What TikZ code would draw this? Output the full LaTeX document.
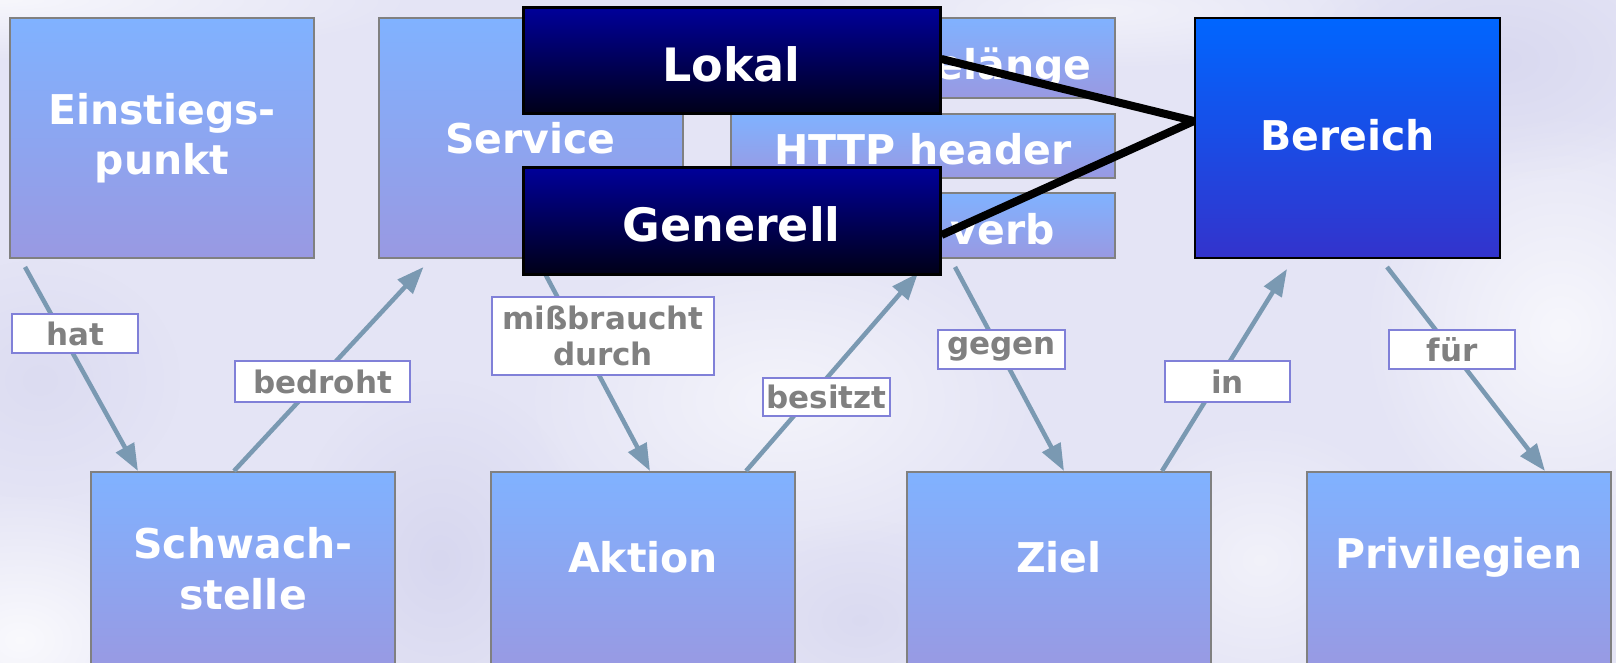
\documentclass[tikz,border=0pt]{standalone}
\usepackage{fontspec}
\setmainfont{DejaVu Sans}
\usetikzlibrary{arrows.meta,calc,fadings}

\definecolor{bg}{RGB}{228,228,245}
\definecolor{bgdark}{RGB}{212,212,238}
\definecolor{boxtop}{RGB}{128,178,255}
\definecolor{boxbot}{RGB}{153,153,226}
\definecolor{boxline}{RGB}{128,128,128}
\definecolor{hubtop}{RGB}{0,102,255}
\definecolor{hubbot}{RGB}{51,51,204}
\definecolor{navytop}{RGB}{0,0,153}
\definecolor{navybot}{RGB}{0,0,24}
\definecolor{connclr}{RGB}{122,153,178}
\definecolor{tagline}{RGB}{128,128,216}
\definecolor{tagtext}{RGB}{128,128,128}

\tikzfading[name=blob, inner color=transparent!0, outer color=transparent!100]

\tikzset{
  concept/.style={draw=boxline, line width=2pt, top color=boxtop, bottom color=boxbot,
    minimum width=304pt, minimum height=240pt, inner sep=0pt, text=white,
    font=\bfseries\fontsize{41}{50}\selectfont, align=center},
  attr/.style={concept, minimum width=384pt},
  hub/.style={concept, draw=black, top color=hubtop, bottom color=hubbot, minimum width=305pt},
  levelbox/.style={draw=black, line width=3pt, top color=navytop, bottom color=navybot,
    minimum width=417pt, minimum height=106pt, inner sep=0pt},
  caption/.style={text=white, font=\bfseries\fontsize{41}{51}\selectfont, align=center, inner sep=0pt},
  levelcap/.style={caption, font=\bfseries\fontsize{46}{50}\selectfont},
  rel/.style={draw=connclr, line width=4.5pt, -{Triangle[length=27pt,width=20pt]}},
  tag/.style={draw=tagline, line width=2pt, fill=white, text=tagtext, inner sep=0pt,
    font=\bfseries\fontsize{31}{36}\selectfont, align=center,
    minimum width=126pt, minimum height=39pt},
  link/.style={draw=black, line width=8pt}
}

\begin{document}
\begin{tikzpicture}[x=1pt, y=-1pt]
\useasboundingbox (0,0) rectangle (1616,663);
\clip (0,0) rectangle (1616,663);

% cloudy background
\fill[bg] (0,0) rectangle (1616,663);
\fill[white, opacity=.7, path fading=blob] (0,0) ellipse (420 and 60);
\fill[white, opacity=.8, path fading=blob] (20,640) ellipse (200 and 150);
\fill[white, opacity=.6, path fading=blob] (780,400) ellipse (260 and 160);
\fill[white, opacity=.7, path fading=blob] (1560,330) ellipse (200 and 220);
\fill[white, opacity=.5, path fading=blob] (1260,560) ellipse (160 and 140);
\fill[white, opacity=.5, path fading=blob] (1100,10) ellipse (300 and 60);
\fill[bgdark, opacity=.8, path fading=blob] (440,560) ellipse (150 and 180);
\fill[bgdark, opacity=.7, path fading=blob] (1500,60) ellipse (200 and 120);
\fill[bgdark, opacity=.6, path fading=blob] (860,620) ellipse (140 and 100);
\fill[bgdark, opacity=.5, path fading=blob] (40,380) ellipse (140 and 120);

% upper row of concepts
\node[concept] (ein) at (162,138) {Einstiegs-\\punkt};
\node[concept] (serv) at (530.5,138) {Service};
\node[attr, minimum height=80pt] (eing) at (923,58) {};
\node[caption] (eingtxt) at (935,68) {Eingabelänge};
\node[attr, minimum height=64pt] (http) at (923,146) {};
\node[caption] (httptxt) at (923,149) {HTTP header};
\node[attr, minimum height=65pt] (verb) at (923,225.5) {};
\node[caption] (verbtxt) at (935,229) {HTTP verb};
\node[hub] (ber) at (1347.5,138) {};
\node[caption] (bertxt) at (1347.5,135) {Bereich};

% lower row of concepts
\node[concept, minimum height=200pt] (schw) at (243,572) {};
\node[concept, minimum height=200pt] (akt) at (643,572) {};
\node[concept, minimum height=200pt] (ziel) at (1059,572) {};
\node[concept, minimum height=200pt] (priv) at (1459,572) {};
\node[caption] (schwtxt) at (243,569) {Schwach-\\stelle};
\node[caption] (akttxt) at (643,557) {Aktion};
\node[caption] (zieltxt) at (1059,557) {Ziel};
\node[caption] (privtxt) at (1459,557) {Privilegien};

% relations
\draw[rel] ($(ein.south west)+(16,8)$) -- ($(schw.north west)+(48,0)$);
\draw[rel] ($(schw.north west)+(144,0)$) -- ($(serv.south west)+(46,8)$);
\draw[rel] ($(serv.south west)+(164,8)$) -- ($(akt.north west)+(160,0)$);
\draw[rel] ($(akt.north west)+(256,0)$) -- ($(verb.south)+(-5,14)$);
\draw[rel] ($(verb.south west)+(225,8)$) -- ($(ziel.north west)+(158,0)$);
\draw[rel] ($(ziel.north west)+(256,0)$) -- ($(ber.south west)+(93,10)$);
\draw[rel] ($(ber.south west)+(193,8)$) -- ($(priv.north west)+(239,0)$);

% relation labels
\node[tag] (lhat) at (75,333.5) {hat};
\node[tag, minimum width=175pt, minimum height=41pt] (lbed) at (322.5,381.5) {bedroht};
\node[tag, minimum width=222pt, minimum height=78pt] (lmis) at (603,336) {mißbraucht\\durch};
\node[tag, minimum width=127pt, minimum height=38pt] (lbes) at (826.5,397) {besitzt};
\node[tag, minimum width=127pt] (lgeg) at (1001.5,349.5) {gegen};
\node[tag, minimum width=125pt, minimum height=41pt] (lin) at (1227.5,381.5) {in};
\node[tag] (lfur) at (1452,349.5) {für};

% scope boxes on top
\node[levelbox] (lokal) at (731.5,61) {};
\node[levelcap] (lokaltxt) at (731.5,64) {Lokal};
\node[levelbox] (gen) at (731.5,221) {};
\node[levelcap] (gentxt) at (731.5,224) {Generell};
\coordinate (hubin) at ($(ber.west)+(0,-17)$);
\draw[link] ($(lokal.east)+(0,-2)$) -- (hubin);
\draw[link] ($(gen.east)+(0,14)$) -- (hubin);
\end{tikzpicture}
\end{document}
